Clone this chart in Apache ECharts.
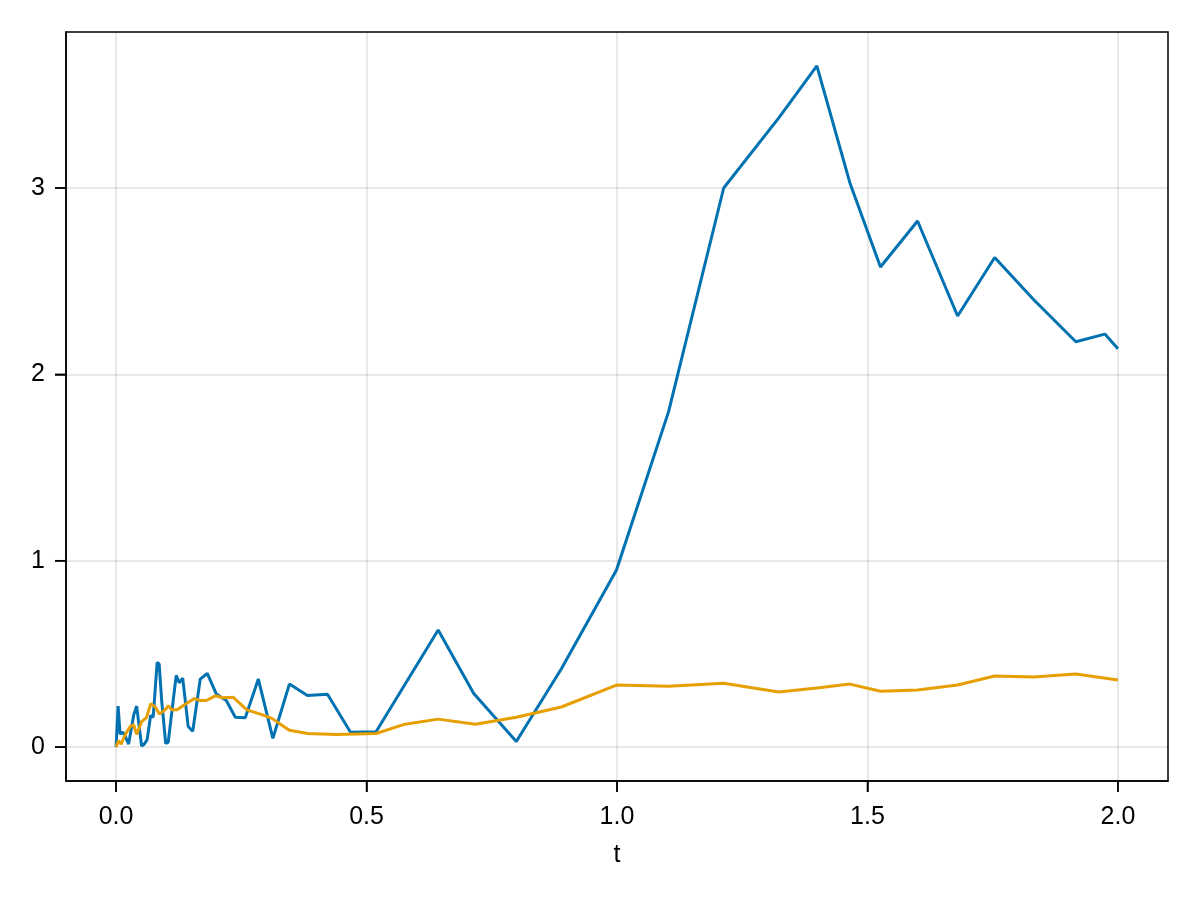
<!DOCTYPE html>
<html>
<head>
<meta charset="utf-8">
<script src="https://cdn.jsdelivr.net/npm/echarts@6/dist/echarts.min.js"></script>
<style>html,body{margin:0;padding:0;background:#fff}#c{width:1200px;height:900px}</style>
</head>
<body>
<div id="c"></div>
<script>
const xTicks = [0, 0.5, 1, 1.5, 2];
const yTicks = [0, 1, 2, 3];
const xName = 't';

const tBlue = [0, 0.004, 0.008, 0.013, 0.018, 0.025, 0.035, 0.041, 0.051, 0.056, 0.062, 0.069, 0.074, 0.082, 0.086, 0.091, 0.099, 0.104, 0.12, 0.126, 0.133, 0.144, 0.153, 0.168, 0.182, 0.2, 0.22, 0.238, 0.258, 0.284, 0.313, 0.346, 0.382, 0.422, 0.468, 0.519, 0.643, 0.714, 0.799, 0.889, 0.999, 1.103, 1.213, 1.323, 1.399, 1.465, 1.526, 1.6, 1.68, 1.754, 1.832, 1.916, 1.974, 2.0];
const vBlue = [0, 0.22, 0.07, 0.08, 0.06, 0.016, 0.17, 0.22, 0.005, 0.015, 0.04, 0.17, 0.16, 0.455, 0.445, 0.25, 0.02, 0.025, 0.385, 0.345, 0.37, 0.11, 0.085, 0.365, 0.395, 0.285, 0.25, 0.16, 0.158, 0.365, 0.047, 0.338, 0.277, 0.283, 0.08, 0.082, 0.628, 0.288, 0.03, 0.42, 0.95, 1.8, 3.0, 3.376, 3.655, 3.027, 2.576, 2.823, 2.313, 2.627, 2.4, 2.175, 2.216, 2.138];

const tOrange = [0, 0.005, 0.01, 0.015, 0.021, 0.028, 0.035, 0.041, 0.051, 0.061, 0.069, 0.078, 0.0865, 0.098, 0.1045, 0.111, 0.122, 0.138, 0.156, 0.168, 0.18, 0.198, 0.214, 0.234, 0.261, 0.288, 0.311, 0.346, 0.382, 0.44, 0.519, 0.577, 0.643, 0.717, 0.799, 0.889, 0.999, 1.103, 1.213, 1.323, 1.399, 1.465, 1.526, 1.6, 1.68, 1.754, 1.832, 1.916, 2.0];
const vOrange = [0, 0.035, 0.015, 0.047, 0.08, 0.11, 0.12, 0.068, 0.136, 0.16, 0.232, 0.216, 0.177, 0.2, 0.222, 0.2, 0.2, 0.23, 0.26, 0.25, 0.25, 0.275, 0.265, 0.267, 0.2, 0.177, 0.154, 0.09, 0.073, 0.068, 0.073, 0.123, 0.15, 0.122, 0.16, 0.215, 0.333, 0.327, 0.343, 0.295, 0.317, 0.338, 0.3, 0.306, 0.333, 0.381, 0.376, 0.392, 0.36];

const FONT = 'Liberation Sans';
const X_MIN = -0.1, X_MAX = 2.1, Y_MIN = -0.182, Y_MAX = 3.837;
const TICK_LEN = 11;
const chart = echarts.init(document.getElementById('c'), null, {renderer: 'canvas'});
chart.setOption({
  animation: false,
  backgroundColor: '#fff',
  grid: {left: 66, top: 32, width: 1102, height: 749, show: true, borderColor: '#000', borderWidth: 1.5, containLabel: false},
  xAxis: {
    type: 'value', min: X_MIN, max: X_MAX,
    name: xName, nameLocation: 'middle', nameGap: 62,
    nameTextStyle: {fontFamily: FONT, fontSize: 25, color: '#000'},
    axisLine: {show: true, onZero: false, lineStyle: {color: '#000', width: 1.5}},
    axisTick: {show: true, customValues: xTicks, length: TICK_LEN, inside: false, lineStyle: {color: '#000', width: 1.5}},
    axisLabel: {customValues: xTicks, margin: 24, fontFamily: FONT, fontSize: 25, color: '#000', formatter: v => v.toFixed(1)},
    splitLine: {show: true, lineStyle: {color: 'rgba(0,0,0,0.12)', width: 1.5}}
  },
  yAxis: {
    type: 'value', min: Y_MIN, max: Y_MAX,
    axisLine: {show: true, onZero: false, lineStyle: {color: '#000', width: 1.5}},
    axisTick: {show: true, customValues: yTicks, length: TICK_LEN, inside: false, lineStyle: {color: '#000', width: 1.5}},
    axisLabel: {customValues: yTicks, margin: 21, fontFamily: FONT, fontSize: 25, color: '#000', formatter: v => String(Math.round(v))},
    splitLine: {show: true, lineStyle: {color: 'rgba(0,0,0,0.12)', width: 1.5}}
  },
  series: [
    {type: 'line', data: tBlue.map((t, i) => [t, vBlue[i]]), showSymbol: false, lineStyle: {color: '#0072B2', width: 3}, itemStyle: {color: '#0072B2'}},
    {type: 'line', data: tOrange.map((t, i) => [t, vOrange[i]]), showSymbol: false, lineStyle: {color: '#E69F00', width: 3}, itemStyle: {color: '#E69F00'}}
  ]
});

// Tick marks placed through the chart's own scales
const tickGraphics = [];
xTicks.forEach(v => {
  const p = chart.convertToPixel({gridIndex: 0}, [v, Y_MIN]);
  tickGraphics.push({type: 'line', silent: true, z: 10,
    shape: {x1: p[0], y1: p[1], x2: p[0], y2: p[1] + TICK_LEN},
    style: {stroke: '#000', lineWidth: 1.5}});
});
yTicks.forEach(v => {
  const p = chart.convertToPixel({gridIndex: 0}, [X_MIN, v]);
  tickGraphics.push({type: 'line', silent: true, z: 10,
    shape: {x1: p[0] - TICK_LEN, y1: p[1], x2: p[0], y2: p[1]},
    style: {stroke: '#000', lineWidth: 1.5}});
});
chart.setOption({graphic: tickGraphics});
</script>
</body>
</html>
